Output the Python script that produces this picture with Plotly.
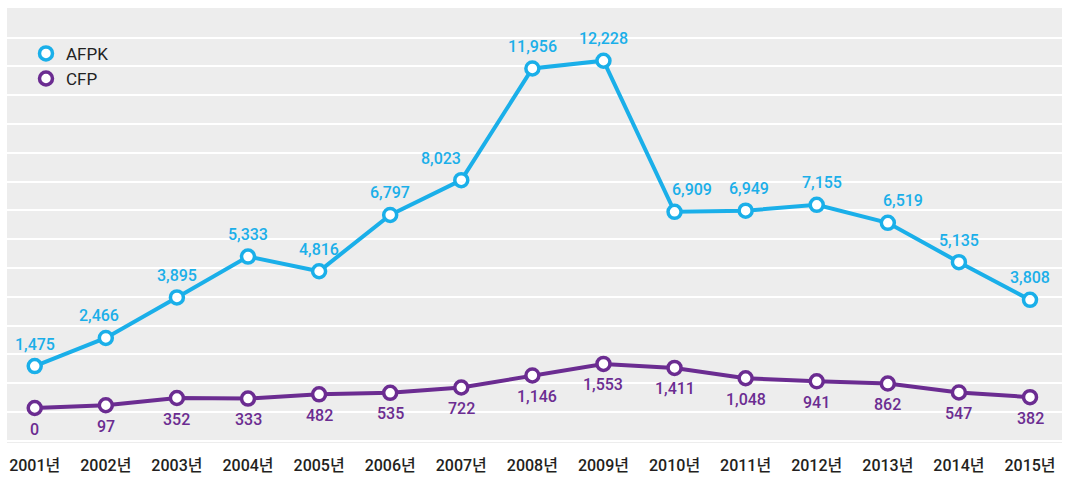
import plotly.graph_objects as go

years = ["2001년", "2002년", "2003년", "2004년", "2005년", "2006년", "2007년", "2008년",
         "2009년", "2010년", "2011년", "2012년", "2013년", "2014년", "2015년"]
afpk = [1475, 2466, 3895, 5333, 4816, 6797, 8023, 11956, 12228, 6909, 6949, 7155, 6519, 5135, 3808]
cfp = [0, 97, 352, 333, 482, 535, 722, 1146, 1553, 1411, 1048, 941, 862, 547, 382]

# horizontal nudges of some value labels (pixels), to keep them clear of the lines
afpk_label_dx = {"2002년": -7, "2007년": -20, "2010년": 17, "2011년": 3, "2012년": 5, "2013년": 15}
cfp_label_dx = {"2008년": 5}

C_AFPK = "#1AAFE9"
C_CFP = "#6B2C91"
FONT = "Roboto, Noto Sans CJK KR, sans-serif"

fig = go.Figure()
for name, vals, col in [("AFPK", afpk, C_AFPK), ("CFP", cfp, C_CFP)]:
    fig.add_trace(go.Scatter(
        x=years, y=vals, mode="lines+markers", name=name, showlegend=False,
        line=dict(color=col, width=4),
        marker=dict(size=13, color="white", line=dict(color=col, width=3.5)),
        cliponaxis=False, hoverinfo="skip",
    ))
    # legend-only marker entries
    fig.add_trace(go.Scatter(
        x=[None], y=[None], mode="markers", name=name,
        marker=dict(size=13, color="white", line=dict(color=col, width=3.5)),
    ))

annotations = []
for x, v in zip(years, afpk):
    annotations.append(dict(x=x, y=v, text=f"{v:,}", showarrow=False, yshift=22,
                            xshift=afpk_label_dx.get(x, 0),
                            font=dict(family=FONT, size=16, color=C_AFPK, weight=500)))
for x, v in zip(years, cfp):
    annotations.append(dict(x=x, y=v, text=f"{v:,}", showarrow=False, yshift=-21,
                            xshift=cfp_label_dx.get(x, 0),
                            font=dict(family=FONT, size=16, color=C_CFP, weight=500)))

fig.update_layout(
    width=1069, height=483,
    margin=dict(l=7, r=7, t=8, b=40),
    paper_bgcolor="white", plot_bgcolor="#EDEDED",
    font=dict(family=FONT),
    annotations=annotations,
    hovermode=False,
    legend=dict(x=0.018, y=0.936, xanchor="left", yanchor="top",
                bgcolor="rgba(0,0,0,0)", font=dict(family=FONT, size=17, color="#222222"),
                tracegroupgap=0, itemwidth=30),
    xaxis=dict(type="category", range=[-0.39, 14.45], showgrid=False, zeroline=False,
               showline=False, ticks="outside", ticklen=8, tickcolor="rgba(0,0,0,0)",
               tickfont=dict(family=FONT, size=16, color="#231F20", weight=500)),
    yaxis=dict(range=[-1232, 14085], tick0=-139, dtick=1014, showticklabels=False,
               gridcolor="white", gridwidth=2, zeroline=False, showline=False),
)

fig.write_html("out.html", post_script="document.body.style.margin='0';",
               config={"displayModeBar": False})
